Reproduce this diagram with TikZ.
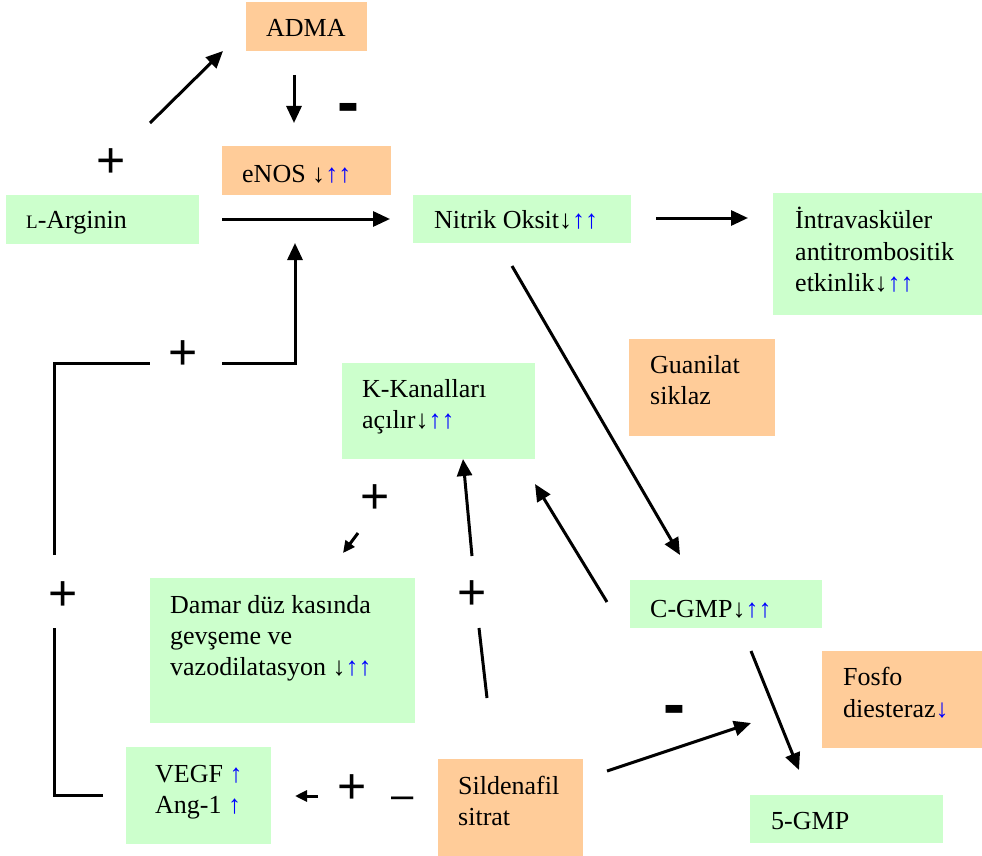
\documentclass[tikz,border=0pt]{standalone}
\usepackage{fontspec}
\setmainfont{Liberation Serif}
\newfontfamily\signfont{Liberation Sans}
\usetikzlibrary{arrows.meta}
\definecolor{boxgreen}{HTML}{CCFFCC}
\definecolor{boxorange}{HTML}{FFCC99}
\definecolor{upblue}{HTML}{0000FF}
\newcommand{\up}{\textcolor{upblue}{↑}}
\newcommand{\dn}{↓}
\begin{document}
\begin{tikzpicture}[x=1pt,y=-1pt,
  box/.style={draw=none, inner sep=0pt, outer sep=0pt, anchor=north west},
  gbox/.style={box, fill=boxgreen},
  obox/.style={box, fill=boxorange},
  lbl/.style={anchor=base west, inner sep=0pt, font=\fontsize{26}{31}\selectfont},
  arr/.style={line width=3pt, -{Triangle[length=17pt,width=15pt]}},
  sarr/.style={line width=3pt, -{Triangle[length=12pt,width=11pt]}},
  ln/.style={line width=3pt},
  plus/.style={inner sep=0pt, font=\signfont\fontsize{50}{50}\selectfont},
  minus/.style={inner sep=0pt, font=\signfont\bfseries\fontsize{66}{66}\selectfont},
  endash/.style={inner sep=0pt, font=\signfont\fontsize{40}{40}\selectfont}]
\useasboundingbox (0,0) rectangle (982,856);

% boxes
\node[obox, minimum width=121pt, minimum height=49pt] (adma) at (246,2) {};
\node[obox, minimum width=169pt, minimum height=49pt] (enos) at (222,146) {};
\node[gbox, minimum width=193pt, minimum height=49pt] (larg) at (6,195) {};
\node[gbox, minimum width=218pt, minimum height=48pt] (no) at (413,195) {};
\node[gbox, minimum width=209pt, minimum height=122pt] (intra) at (773,193) {};
\node[obox, minimum width=146pt, minimum height=97pt] (gc) at (629,339) {};
\node[gbox, minimum width=193pt, minimum height=96pt] (kk) at (342,363) {};
\node[gbox, minimum width=192pt, minimum height=48pt] (cgmp) at (630,580) {};
\node[gbox, minimum width=265pt, minimum height=145pt] (damar) at (150,578) {};
\node[gbox, minimum width=145pt, minimum height=97pt] (vegf) at (126,747) {};
\node[obox, minimum width=145pt, minimum height=97pt] (sild) at (438,759) {};
\node[obox, minimum width=160pt, minimum height=97pt] (pde) at (822,651) {};
\node[gbox, minimum width=193pt, minimum height=48pt] (gmp5) at (750,795) {};

% texts
\node[lbl] (tadma) at (266,37) {ADMA};
\node[lbl] (tenos) at (242,182) {eNOS \dn\up\up};
\node[lbl] (tlarg) at (26,228) {{\fontsize{19}{19}\selectfont L}-Arginin};
\node[lbl] (tno) at (434,228) {Nitrik Oksit\dn\up\up};
\node[lbl] (tintra1) at (795,228) {İntravasküler};
\node[lbl] (tintra2) at (795,260) {antitrombositik};
\node[lbl] (tintra3) at (795,291) {etkinlik\dn\up\up};
\node[lbl] (tgc1) at (650,373) {Guanilat};
\node[lbl] (tgc2) at (650,404) {siklaz};
\node[lbl] (tkk1) at (362,397) {K-Kanalları};
\node[lbl] (tkk2) at (362,428) {açılır\dn\up\up};
\node[lbl] (tcgmp) at (650,617) {C-GMP\dn\up\up};
\node[lbl] (tdam1) at (170,613) {Damar düz kasında};
\node[lbl] (tdam2) at (170,644) {gevşeme ve};
\node[lbl] (tdam3) at (170,675) {vazodilatasyon \dn\up\up};
\node[lbl] (tvegf1) at (155,782) {VEGF \up};
\node[lbl] (tvegf2) at (155,813) {Ang-1 \up};
\node[lbl] (tsild1) at (458,794) {Sildenafil};
\node[lbl] (tsild2) at (458,825) {sitrat};
\node[lbl] (tpde1) at (843,685) {Fosfo};
\node[lbl] (tpde2) at (843,717) {diesteraz\textcolor{upblue}{↓}};
\node[lbl] (tgmp5) at (771,829) {5-GMP};

% signs
\node[plus] (p1) at (111,163) {+};
\node[minus] (m1) at (348,114) {-};
\node[plus] (p2) at (183,355) {+};
\node[plus] (p3) at (63,596) {+};
\node[plus] (p4) at (375,499) {+};
\node[plus] (p5) at (472,595) {+};
\node[plus] (p6) at (352,789) {+};
\node[endash] (d1) at (403,803) {–};
\node[minus] (m2) at (674,716) {-};

% connector end points
\coordinate (a1s) at (150,123); \coordinate (a1e) at (223,51);
\coordinate (a2s) at (294,75);  \coordinate (a2e) at (294,123);
\coordinate (a3s) at (222,219); \coordinate (a3e) at (390,219);
\coordinate (a4s) at (656,218); \coordinate (a4e) at (748,218);
\coordinate (a5s) at (512,266); \coordinate (a5e) at (680,555);
\coordinate (a6s) at (607,602); \coordinate (a6e) at (535,484);
\coordinate (a7s) at (472,556); \coordinate (a7e) at (463,459);
\coordinate (l7s) at (479,628); \coordinate (l7e) at (487,698);
\coordinate (a8s) at (358,533); \coordinate (a8e) at (343,553);
\coordinate (a9s) at (318,796); \coordinate (a9e) at (295,796);
\coordinate (a10s) at (607,771); \coordinate (a10e) at (751,723);
\coordinate (a11s) at (751,651); \coordinate (a11e) at (799,770);
\coordinate (lp1) at (103,795); \coordinate (lp2) at (54,795); \coordinate (lp3) at (54,628);
\coordinate (lp4) at (54,555); \coordinate (lp5) at (54,363); \coordinate (lp6) at (150,363);
\coordinate (lp7) at (222,363); \coordinate (lp8) at (295,363); \coordinate (lp9) at (295,243);

% connectors
\draw[arr] (a1s) -- (a1e);
\draw[arr] (a2s) -- (a2e);
\draw[arr] (a3s) -- (a3e);
\draw[arr] (a4s) -- (a4e);
\draw[arr] (a5s) -- (a5e);
\draw[arr] (a6s) -- (a6e);
\draw[arr] (a7s) -- (a7e);
\draw[ln] (l7s) -- (l7e);
\draw[sarr] (a8s) -- (a8e);
\draw[sarr] (a9s) -- (a9e);
\draw[arr] (a10s) -- (a10e);
\draw[arr] (a11s) -- (a11e);
\draw[ln] (lp1) -- (lp2) -- (lp3);
\draw[ln] (lp4) -- (lp5) -- (lp6);
\draw[arr] (lp7) -- (lp8) -- (lp9);
\end{tikzpicture}
\end{document}
